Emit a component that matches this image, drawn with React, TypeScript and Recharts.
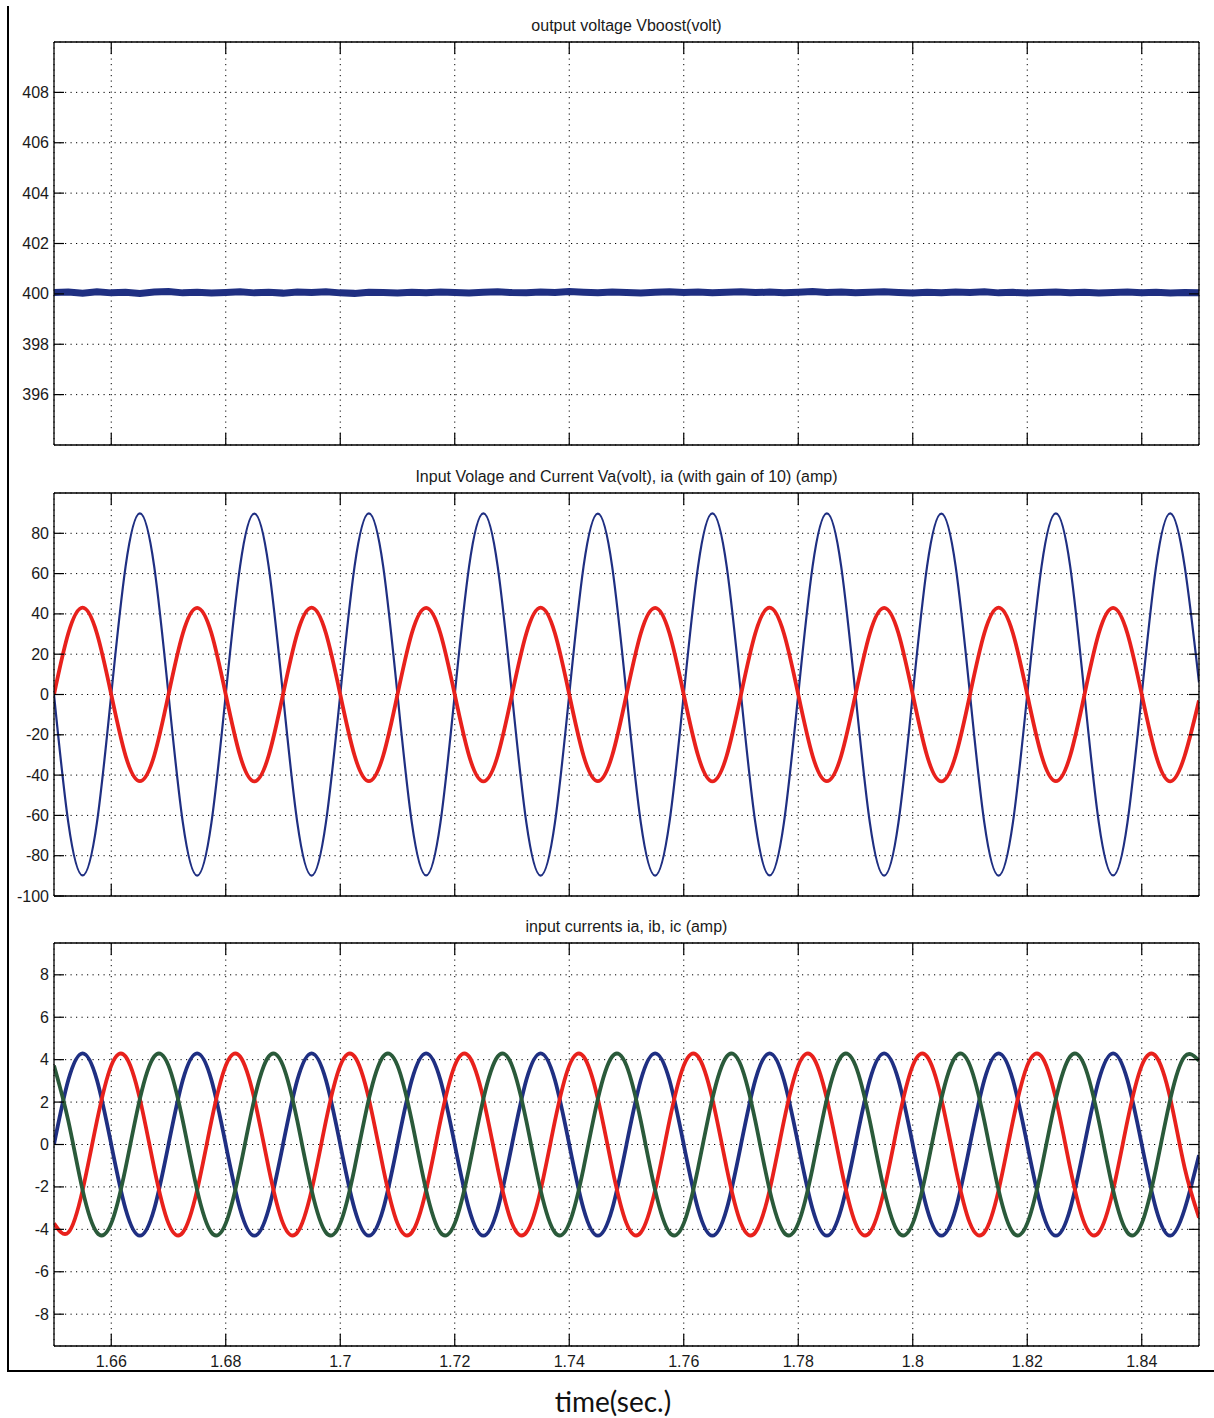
import React from 'react';
import { LineChart, Line, XAxis, YAxis, CartesianGrid } from 'recharts';

// time samples (s)
const TIME = [
  1.65, 1.6525, 1.655, 1.6575, 1.66, 1.6625, 1.665, 1.6675,
  1.67, 1.6725, 1.675, 1.6775, 1.68, 1.6825, 1.685, 1.6875,
  1.69, 1.6925, 1.695, 1.6975, 1.7, 1.7025, 1.705, 1.7075,
  1.71, 1.7125, 1.715, 1.7175, 1.72, 1.7225, 1.725, 1.7275,
  1.73, 1.7325, 1.735, 1.7375, 1.74, 1.7425, 1.745, 1.7475,
  1.75, 1.7525, 1.755, 1.7575, 1.76, 1.7625, 1.765, 1.7675,
  1.77, 1.7725, 1.775, 1.7775, 1.78, 1.7825, 1.785, 1.7875,
  1.79, 1.7925, 1.795, 1.7975, 1.8, 1.8025, 1.805, 1.8075,
  1.81, 1.8125, 1.815, 1.8175, 1.82, 1.8225, 1.825, 1.8275,
  1.83, 1.8325, 1.835, 1.8375, 1.84, 1.8425, 1.845, 1.8475,
  1.85,
];

// panel 1: output voltage Vboost (V)
const VBOOST = [
  400.05, 400.07, 400.03, 400.08, 400.04, 400.06, 400.02, 400.07,
  400.09, 400.04, 400.06, 400.03, 400.05, 400.08, 400.04, 400.06,
  400.03, 400.07, 400.05, 400.08, 400.04, 400.02, 400.06, 400.05,
  400.03, 400.06, 400.04, 400.07, 400.05, 400.03, 400.06, 400.08,
  400.05, 400.04, 400.07, 400.05, 400.09, 400.06, 400.04, 400.07,
  400.05, 400.03, 400.06, 400.08, 400.05, 400.07, 400.04, 400.06,
  400.08, 400.05, 400.07, 400.04, 400.06, 400.09, 400.05, 400.07,
  400.04, 400.06, 400.08, 400.05, 400.03, 400.06, 400.04, 400.07,
  400.05, 400.08, 400.04, 400.06, 400.03, 400.05, 400.07, 400.04,
  400.06, 400.03, 400.05, 400.07, 400.04, 400.06, 400.03, 400.05,
  400.04,
];

// panel 2: input voltage Va (V) and current ia x10 (A)
const VA = [
  0, -63.6, -89.8, -63.6, 0, 63.5, 89.9, 63.6,
  0, -63.5, -89.9, -63.6, 0, 63.6, 89.8, 63.5,
  0, -63.6, -89.9, -63.5, 0, 63.6, 89.9, 63.6,
  0, -63.6, -89.8, -63.6, 0, 63.5, 89.9, 63.6,
  0, -63.5, -89.9, -63.6, 0, 63.6, 89.8, 63.5,
  0, -63.6, -89.9, -63.5, 0, 63.6, 89.9, 63.6,
  0, -63.6, -89.8, -63.6, 0, 63.5, 89.9, 63.6,
  0, -63.5, -89.9, -63.6, 0, 63.6, 89.8, 63.5,
  0, -63.6, -89.9, -63.5, 0, 63.6, 89.9, 63.6,
  0, -63.6, -89.8, -63.6, 0, 63.5, 89.9, 63.6,
  6,
];
const IA10 = [
  0, 30.4, 43.1, 30.3, 0, -30.4, -43.0, -30.4,
  0, 30.3, 43.0, 30.4, 0, -30.4, -43.1, -30.3,
  0, 30.4, 43.1, 30.4, 0, -30.3, -43.0, -30.4,
  0, 30.4, 43.0, 30.3, 0, -30.4, -43.1, -30.4,
  0, 30.3, 43.1, 30.4, 0, -30.4, -43.0, -30.3,
  0, 30.4, 43.0, 30.4, 0, -30.3, -43.1, -30.4,
  0, 30.4, 43.1, 30.3, 0, -30.4, -43.0, -30.4,
  0, 30.3, 43.0, 30.4, 0, -30.4, -43.1, -30.3,
  0, 30.4, 43.1, 30.4, 0, -30.3, -43.0, -30.4,
  0, 30.4, 43.0, 30.3, 0, -30.4, -43.1, -30.4,
  -3,
];

// panel 3: input currents ia, ib, ic (A)
const IA = [
  0, 3.04, 4.3, 3.04, 0, -3.04, -4.3, -3.04,
  0, 3.04, 4.3, 3.04, 0, -3.04, -4.3, -3.04,
  0, 3.04, 4.3, 3.04, 0, -3.04, -4.3, -3.04,
  0, 3.04, 4.3, 3.04, 0, -3.04, -4.3, -3.04,
  0, 3.04, 4.3, 3.04, 0, -3.04, -4.3, -3.04,
  0, 3.04, 4.3, 3.04, 0, -3.04, -4.3, -3.04,
  0, 3.04, 4.3, 3.04, 0, -3.04, -4.3, -3.04,
  0, 3.04, 4.3, 3.04, 0, -3.04, -4.3, -3.04,
  0, 3.04, 4.3, 3.04, 0, -3.04, -4.3, -3.04,
  0, 3.04, 4.3, 3.04, 0, -3.04, -4.3, -3.04,
  -0.5,
];
const IB = [
  -3.72, -4.15, -2.15, 1.11, 3.72, 4.15, 2.15, -1.11,
  -3.72, -4.15, -2.15, 1.11, 3.72, 4.15, 2.15, -1.11,
  -3.72, -4.15, -2.15, 1.11, 3.72, 4.15, 2.15, -1.11,
  -3.72, -4.15, -2.15, 1.11, 3.72, 4.15, 2.15, -1.11,
  -3.72, -4.15, -2.15, 1.11, 3.72, 4.15, 2.15, -1.11,
  -3.72, -4.15, -2.15, 1.11, 3.72, 4.15, 2.15, -1.11,
  -3.72, -4.15, -2.15, 1.11, 3.72, 4.15, 2.15, -1.11,
  -3.72, -4.15, -2.15, 1.11, 3.72, 4.15, 2.15, -1.11,
  -3.72, -4.15, -2.15, 1.11, 3.72, 4.15, 2.15, -1.11,
  -3.72, -4.15, -2.15, 1.11, 3.72, 4.15, 2.15, -1.11,
  -3.45,
];
const IC = [
  3.72, 1.11, -2.15, -4.15, -3.72, -1.11, 2.15, 4.15,
  3.72, 1.11, -2.15, -4.15, -3.72, -1.11, 2.15, 4.15,
  3.72, 1.11, -2.15, -4.15, -3.72, -1.11, 2.15, 4.15,
  3.72, 1.11, -2.15, -4.15, -3.72, -1.11, 2.15, 4.15,
  3.72, 1.11, -2.15, -4.15, -3.72, -1.11, 2.15, 4.15,
  3.72, 1.11, -2.15, -4.15, -3.72, -1.11, 2.15, 4.15,
  3.72, 1.11, -2.15, -4.15, -3.72, -1.11, 2.15, 4.15,
  3.72, 1.11, -2.15, -4.15, -3.72, -1.11, 2.15, 4.15,
  3.72, 1.11, -2.15, -4.15, -3.72, -1.11, 2.15, 4.15,
  3.72, 1.11, -2.15, -4.15, -3.72, -1.11, 2.15, 4.15,
  3.95,
];

const X_TICKS = [1.66, 1.68, 1.7, 1.72, 1.74, 1.76, 1.78, 1.8, 1.82, 1.84];
const Y1_TICKS = [396, 398, 400, 402, 404, 406, 408];
const Y2_TICKS = [-100, -80, -60, -40, -20, 0, 20, 40, 60, 80];
const Y3_TICKS = [-8, -6, -4, -2, 0, 2, 4, 6, 8];

const TITLES = [
  'output voltage Vboost(volt)',
  'Input Volage and Current Va(volt), ia (with gain of 10) (amp)',
  'input currents ia, ib, ic (amp)',
];

const BLUE = '#1f2f82';
const RED = '#e8211c';
const GREEN = '#2a5a3a';

const FONT = '"Liberation Sans", Arial, sans-serif';
const TXT = '#1a1a1a';

const rows = TIME.map((t, i) => ({
  t,
  vb: VBOOST[i],
  va: VA[i],
  ia10: IA10[i],
  ia: IA[i],
  ib: IB[i],
  ic: IC[i],
}));

const PLOT_H = 403;
const TOP_AX = 10;
const BOT_AX = 30;

const tickBottom = (showLabel: boolean) => (p: any) => (
  <g>
    <line x1={p.x} x2={p.x} y1={p.y} y2={p.y - 12} stroke="#000" strokeWidth={1.2} />
    {showLabel && (
      <text x={p.x} y={p.y + 15} textAnchor="middle" dominantBaseline="central"
        fontFamily={FONT} fontSize={16} fill={TXT}>
        {String(p.payload.value)}
      </text>
    )}
  </g>
);
const tickTop = (p: any) => (
  <line x1={p.x} x2={p.x} y1={p.y} y2={p.y + 12} stroke="#000" strokeWidth={1.2} />
);
const tickLeft = (p: any) => (
  <g>
    <line x1={p.x} x2={p.x + 10} y1={p.y} y2={p.y} stroke="#000" strokeWidth={1.2} />
    <text x={p.x - 5} y={p.y} textAnchor="end" dominantBaseline="central"
      fontFamily={FONT} fontSize={16} fill={TXT}>
      {String(p.payload.value)}
    </text>
  </g>
);
const tickRight = (p: any) => (
  <line x1={p.x} x2={p.x - 10} y1={p.y} y2={p.y} stroke="#000" strokeWidth={1.2} />
);

type Series = { key: string; color: string; width: number; type: 'natural' | 'linear' };

function Panel(props: {
  plotTop: number;
  title: string;
  domain: [number, number];
  ticks: number[];
  series: Series[];
  showX: boolean;
}) {
  const { plotTop, title, domain, ticks, series, showX } = props;
  return (
    <>
      <div style={{
        position: 'absolute', left: 54, width: 1145, top: plotTop - 26, height: 20,
        lineHeight: '20px', textAlign: 'center', fontFamily: FONT, fontSize: 16, color: TXT,
      }}>{title}</div>
      <div style={{ position: 'absolute', left: 0, top: plotTop - TOP_AX }}>
        <LineChart width={1214} height={TOP_AX + PLOT_H + BOT_AX} data={rows}
          margin={{ top: 0, right: 14, bottom: 0, left: 0 }}>
          <CartesianGrid stroke="#000" strokeDasharray="1.2 4.3" strokeWidth={1} />
          <XAxis dataKey="t" type="number" domain={[1.65, 1.85]} ticks={X_TICKS}
            allowDataOverflow interval={0} height={BOT_AX} tickSize={0} tickMargin={0}
            axisLine={{ stroke: '#000', strokeWidth: 1.3 }} tickLine={false}
            tick={tickBottom(showX)} />
          <XAxis xAxisId="top" orientation="top" dataKey="t" type="number"
            domain={[1.65, 1.85]} ticks={X_TICKS} allowDataOverflow interval={0}
            height={TOP_AX} tickSize={0} tickMargin={0}
            axisLine={{ stroke: '#000', strokeWidth: 1.3 }} tickLine={false} tick={tickTop} />
          <YAxis type="number" domain={domain} ticks={ticks} allowDataOverflow interval={0}
            width={54} tickSize={0} tickMargin={0}
            axisLine={{ stroke: '#000', strokeWidth: 1.3 }} tickLine={false} tick={tickLeft} />
          <YAxis yAxisId="r" orientation="right" type="number" domain={domain} ticks={ticks}
            allowDataOverflow interval={0} width={1} tickSize={0} tickMargin={0}
            axisLine={{ stroke: '#000', strokeWidth: 1.3 }} tickLine={false} tick={tickRight} />
          {series.map((s) => (
            <Line key={s.key} dataKey={s.key} type={s.type} stroke={s.color}
              strokeWidth={s.width} dot={false} activeDot={false}
              isAnimationActive={false} />
          ))}
        </LineChart>
      </div>
    </>
  );
}

export default function App() {
  return (
    <div style={{ position: 'absolute', left: 0, top: 0, width: 1214, height: 1418, background: '#fff', overflow: 'hidden' }}>
      <div style={{ position: 'absolute', left: 7, top: 6, width: 1.5, height: 1365, background: '#000' }} />
      <div style={{ position: 'absolute', left: 7, top: 1369.5, width: 1207, height: 2, background: '#000' }} />
      <Panel plotTop={42} title={TITLES[0]} domain={[394, 410]} ticks={Y1_TICKS}
        series={[{ key: 'vb', color: BLUE, width: 7, type: 'linear' }]} showX={false} />
      <Panel plotTop={493} title={TITLES[1]} domain={[-100, 100]} ticks={Y2_TICKS}
        series={[
          { key: 'va', color: BLUE, width: 2.2, type: 'natural' },
          { key: 'ia10', color: RED, width: 3.8, type: 'natural' },
        ]} showX={false} />
      <Panel plotTop={943} title={TITLES[2]} domain={[-9.5, 9.5]} ticks={Y3_TICKS}
        series={[
          { key: 'ia', color: BLUE, width: 3.8, type: 'natural' },
          { key: 'ib', color: RED, width: 3.8, type: 'natural' },
          { key: 'ic', color: GREEN, width: 3.8, type: 'natural' },
        ]} showX={true} />
      <div style={{
        position: 'absolute', left: 463, width: 300, top: 1385, height: 32, lineHeight: '32px',
        textAlign: 'center', fontFamily: 'Lato, "Open Sans", sans-serif', fontSize: 28, color: '#111',
      }}>time(sec.)</div>
    </div>
  );
}
